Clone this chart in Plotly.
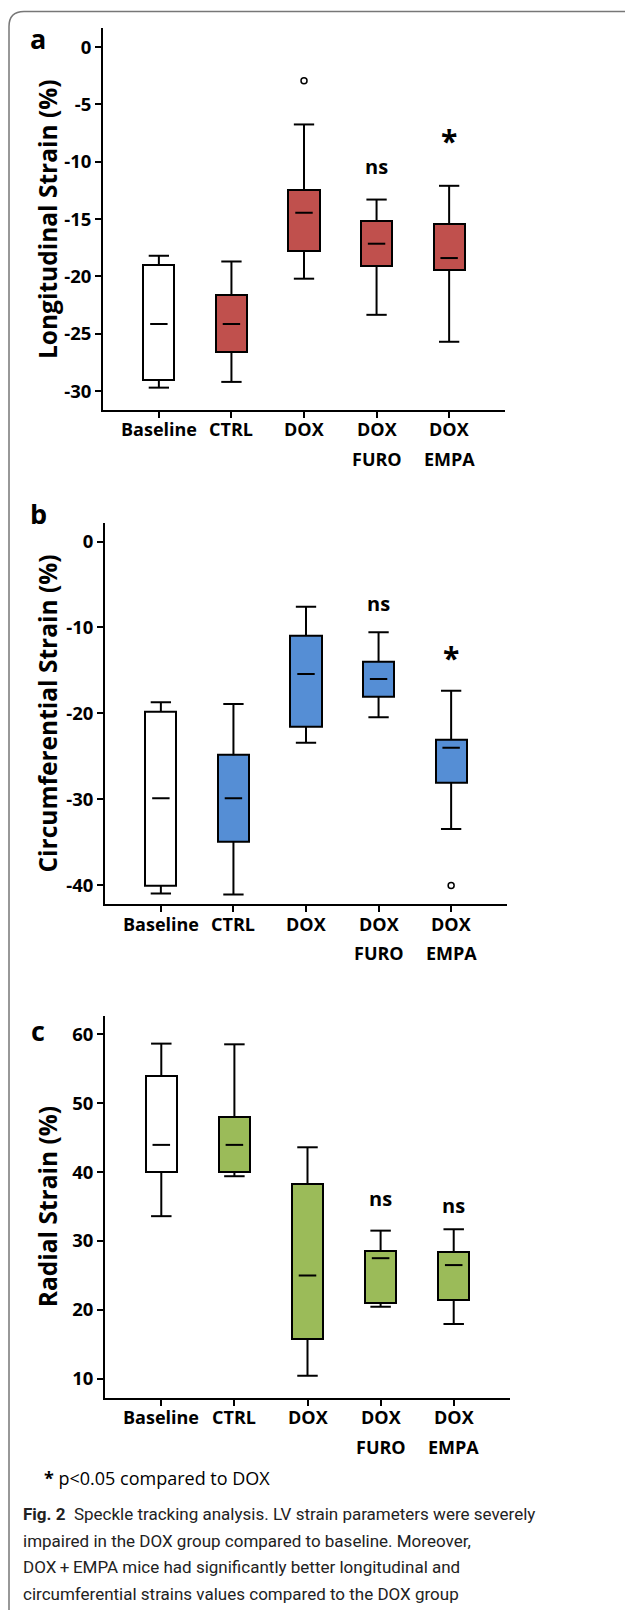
import plotly.graph_objects as go

W, H = 625, 1610

# ---------------- data ----------------
categories = ["Baseline", "CTRL", "DOX", "DOX<br>FURO", "DOX<br>EMPA"]

long_lower = [-29.7, -29.2, -20.2, -23.35, -25.7]
long_q1 = [-29.0, -26.6, -17.75, -19.1, -19.4]
long_median = [-24.15, -24.15, -14.45, -17.15, -18.4]
long_q3 = [-19.0, -21.6, -12.45, -15.15, -15.45]
long_upper = [-18.2, -18.7, -6.75, -13.3, -12.1]
long_out_x = [2]
long_out_y = [-2.95]
long_sig = ["", "", "", "ns", "*"]
long_ticks = [0, -5, -10, -15, -20, -25, -30]

circ_lower = [-40.95, -41.05, -23.4, -20.45, -33.45]
circ_q1 = [-40.0, -34.95, -21.5, -18.0, -28.0]
circ_median = [-29.85, -29.85, -15.4, -16.0, -24.0]
circ_q3 = [-19.8, -24.85, -10.95, -14.0, -23.0]
circ_upper = [-18.7, -18.9, -7.6, -10.55, -17.35]
circ_out_x = [4]
circ_out_y = [-40.0]
circ_sig = ["", "", "", "ns", "*"]
circ_ticks = [0, -10, -20, -30, -40]

rad_lower = [33.6, 39.4, 10.45, 20.45, 17.95]
rad_q1 = [40.0, 40.0, 15.75, 20.95, 21.45]
rad_median = [43.95, 43.95, 25.0, 27.5, 26.5]
rad_q3 = [54.0, 48.0, 38.2, 28.55, 28.45]
rad_upper = [58.65, 58.55, 43.6, 31.5, 31.7]
rad_out_x = []
rad_out_y = []
rad_sig = ["", "", "", "ns", "ns"]
rad_ticks = [10, 20, 30, 40, 50, 60]

footnote = "<b>*</b> p&lt;0.05 compared to DOX"
caption_lines = [
    "<b>Fig. 2</b>  Speckle tracking analysis. LV strain parameters were severely",
    "impaired in the DOX group compared to baseline. Moreover,",
    "DOX\u2009+\u2009EMPA mice had significantly better longitudinal and",
    "circumferential strains values compared to the DOX group",
]

# ---------------- layout helpers ----------------
def fx(px):
    return px / W

def fy(py):
    return 1 - py / H

FONT = "Open Sans"
panels = [
    dict(name="a", title="Longitudinal Strain (%)", color="#C0504D",
         lower=long_lower, q1=long_q1, med=long_median, q3=long_q3, upper=long_upper,
         ox=long_out_x, oy=long_out_y, sig=long_sig, ticks=long_ticks,
         xdom=(103, 505), ydom=(28, 410), yr=(-31.65, 1.66),
         lab1=429, lab2=459, letter_y=38, sig_shift=[0, 0, 0, 33, 53]),
    dict(name="b", title="Circumferential Strain (%)", color="#558ED5",
         lower=circ_lower, q1=circ_q1, med=circ_median, q3=circ_q3, upper=circ_upper,
         ox=circ_out_x, oy=circ_out_y, sig=circ_sig, ticks=circ_ticks,
         xdom=(105, 507), ydom=(522.7, 904.3), yr=(-42.2, 2.19),
         lab1=924, lab2=953, letter_y=513, sig_shift=[0, 0, 0, 29, 41]),
    dict(name="c", title="Radial Strain (%)", color="#9BBB59",
         lower=rad_lower, q1=rad_q1, med=rad_median, q3=rad_q3, upper=rad_upper,
         ox=rad_out_x, oy=rad_out_y, sig=rad_sig, ticks=rad_ticks,
         xdom=(105, 510), ydom=(1016, 1398.3), yr=(7.16, 62.66),
         lab1=1416.7, lab2=1446.7, letter_y=1030, sig_shift=[0, 0, 0, 32, 24]),
]

BOX_W = 0.43
CAP = 0.14
MED = 0.12

fig = go.Figure()
annotations = []
layout_axes = {}

for k, p in enumerate(panels):
    n = k + 1
    xa = "x" if n == 1 else f"x{n}"
    ya = "y" if n == 1 else f"y{n}"
    xs = list(range(len(categories)))
    colors = ["white"] + [p["color"]] * (len(categories) - 1)

    # whiskers (drawn first)
    wx, wy = [], []
    for i in xs:
        wx += [i, i, None, i, i, None]
        wy += [p["q3"][i], p["upper"][i], None, p["q1"][i], p["lower"][i], None]
    fig.add_trace(go.Scatter(x=wx, y=wy, mode="lines", xaxis=xa, yaxis=ya,
                             line=dict(color="black", width=2), showlegend=False,
                             hoverinfo="skip"))
    # boxes
    fig.add_trace(go.Bar(x=xs, y=[p["q3"][i] - p["q1"][i] for i in xs], base=p["q1"],
                         width=BOX_W, xaxis=xa, yaxis=ya,
                         marker=dict(color=colors, line=dict(color="black", width=2)),
                         showlegend=False))
    # caps and medians
    cx, cy = [], []
    for i in xs:
        cx += [i - CAP, i + CAP, None, i - CAP, i + CAP, None]
        cy += [p["upper"][i], p["upper"][i], None, p["lower"][i], p["lower"][i], None]
    fig.add_trace(go.Scatter(x=cx, y=cy, mode="lines", xaxis=xa, yaxis=ya,
                             line=dict(color="black", width=2), showlegend=False,
                             hoverinfo="skip"))
    mx, my = [], []
    for i in xs:
        mx += [i - MED, i + MED, None]
        my += [p["med"][i], p["med"][i], None]
    fig.add_trace(go.Scatter(x=mx, y=my, mode="lines", xaxis=xa, yaxis=ya,
                             line=dict(color="black", width=2), showlegend=False,
                             hoverinfo="skip"))
    if p["ox"]:
        fig.add_trace(go.Scatter(x=p["ox"], y=p["oy"], mode="markers", xaxis=xa, yaxis=ya,
                                 marker=dict(symbol="circle-open", size=6,
                                             color="black", line=dict(width=1.5)),
                                 showlegend=False))

    xkey = "xaxis" if n == 1 else f"xaxis{n}"
    ykey = "yaxis" if n == 1 else f"yaxis{n}"
    layout_axes[xkey] = dict(domain=[fx(p["xdom"][0]), fx(p["xdom"][1])],
                             anchor=ya, range=[-0.77, len(categories) - 1 + 0.77],
                             tickvals=xs, ticktext=[""] * len(xs), showticklabels=False,
                             ticks="outside", ticklen=6, tickwidth=2, tickcolor="black",
                             showline=True, linewidth=2, linecolor="black",
                             showgrid=False, zeroline=False, fixedrange=True)
    layout_axes[ykey] = dict(domain=[fy(p["ydom"][1]), fy(p["ydom"][0])],
                             anchor=xa, range=list(p["yr"]),
                             tickvals=p["ticks"], ticktext=[str(t) for t in p["ticks"]],
                             ticks="outside", ticklen=6, tickwidth=2, tickcolor="black",
                             tickfont=dict(family=FONT, size=18.5, color="black", weight="bold"),
                             showline=True, linewidth=2, linecolor="black",
                             showgrid=False, zeroline=False, fixedrange=True)

    # category labels (two lines)
    for i, c in enumerate(categories):
        parts = c.split("<br>")
        for j, part in enumerate(parts):
            annotations.append(dict(x=i, xref=xa, y=fy(p["lab1"] if j == 0 else p["lab2"]),
                                    yref="paper", text=part, showarrow=False,
                                    xanchor="center", yanchor="middle",
                                    font=dict(family=FONT, size=18, color="black",
                                              weight="bold")))
    # significance marks
    for i, s in enumerate(p["sig"]):
        if s:
            annotations.append(dict(x=i, xref=xa, y=p["upper"][i], yref=ya, text=s,
                                    showarrow=False, xanchor="center", yanchor="middle",
                                    yshift=p["sig_shift"][i] - (8 if s == "*" else 0),
                                    font=dict(family=FONT, size=30 if s == "*" else 20,
                                              color="black", weight="bold")))
    # panel letter
    annotations.append(dict(x=fx(38), y=fy(p["letter_y"]), xref="paper", yref="paper",
                            text=p["name"], showarrow=False, xanchor="center",
                            yanchor="middle",
                            font=dict(family=FONT, size=27, color="black", weight="bold")))
    # y title
    annotations.append(dict(x=fx(47), y=fy((p["ydom"][0] + p["ydom"][1]) / 2),
                            xref="paper", yref="paper", text=p["title"], textangle=-90,
                            showarrow=False, xanchor="center", yanchor="middle",
                            font=dict(family=FONT, size=24.5, color="black", weight="bold")))

# footnote
annotations.append(dict(x=fx(42), y=fy(1478), xref="paper", yref="paper", text=footnote,
                        showarrow=False, xanchor="left", yanchor="middle",
                        font=dict(family=FONT, size=18, color="black")))
# caption
cap_y = [1514, 1540.7, 1567.3, 1594]
for t, yy in zip(caption_lines, cap_y):
    annotations.append(dict(x=fx(21), y=fy(yy), xref="paper", yref="paper", text=t,
                            showarrow=False, xanchor="left", yanchor="middle",
                            font=dict(family="Liberation Sans Narrow, Roboto, sans-serif",
                                      size=17, color="#222222")))

# frame (rounded top-left corner)
r = 15
path = (f"M {fx(9)},{fy(1615)} L {fx(9)},{fy(11.5 + r)} "
        f"Q {fx(9)},{fy(11.5)} {fx(9 + r)},{fy(11.5)} L {fx(640)},{fy(11.5)}")
shapes = [dict(type="path", path=path, xref="paper", yref="paper",
               line=dict(color="#777777", width=1.5))]

fig.update_layout(width=W, height=H, margin=dict(l=0, r=0, t=0, b=0),
                  paper_bgcolor="white", plot_bgcolor="white",
                  showlegend=False, bargap=0, annotations=annotations, shapes=shapes,
                  **layout_axes)

fig.write_html("out.html", config={"displayModeBar": False},
               post_script="document.body.style.margin='0';document.body.style.overflow='hidden';")
